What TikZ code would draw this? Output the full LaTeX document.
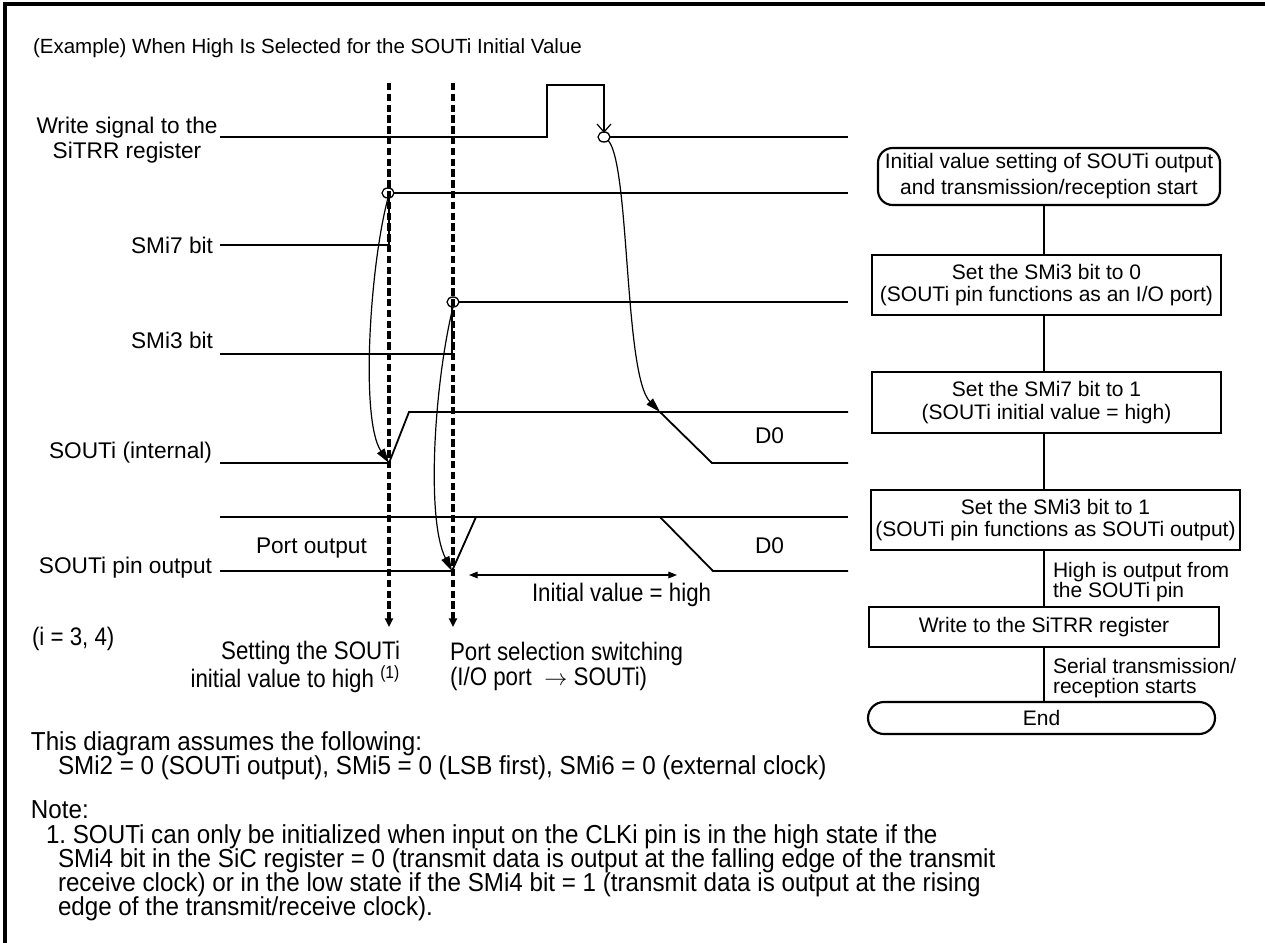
\documentclass[tikz,border=0pt]{standalone}
\usepackage{fontspec}
\setmainfont{Liberation Sans}
\newfontfamily\condfont[FakeStretch=0.93]{Liberation Sans}
\newfontfamily\labfont[FakeStretch=0.88]{Liberation Sans}
\usetikzlibrary{arrows.meta,shapes.geometric}
\begin{document}
\begin{tikzpicture}[x=0.75pt,y=-0.75pt,
  every node/.style={inner sep=0pt, outer sep=0pt},
  lbl/.style={font=\fontsize{17}{19}\selectfont},
  cond/.style={font=\condfont\fontsize{19.5}{18}\selectfont},
  labc/.style={font=\labfont\fontsize{19}{19}\selectfont},
  wave/.style={line width=1.35pt, line join=miter},
  frameline/.style={line width=2.5pt},
  guide/.style={line width=2.6pt, dash pattern=on 5.5pt off 2.6pt, -{Triangle[length=6.5pt,width=6pt]}},
  cause/.style={line width=0.9pt, -{Triangle[length=11pt,width=6.5pt]}},
  ring/.style={draw, ellipse, line width=1pt, fill=white, minimum width=9pt, minimum height=7.5pt},
  stepbox/.style={draw, line width=1.6pt, rectangle, align=center, font=\fontsize{15.75}{16.9}\selectfont},
  termbox/.style={draw, line width=1.6pt, rectangle, align=center, font=\fontsize{15.75}{19.5}\selectfont},
  flowline/.style={line width=1.1pt},
  sidelbl/.style={anchor=north west, align=left, font=\fontsize{15.75}{15.5}\selectfont},
]
\useasboundingbox (0,0) rectangle (1265,943);
% frame
\draw[frameline] (5,943) -- (5,4) -- (1265,4);

% title
\node[anchor=base west, font=\fontsize{15.4}{18}\selectfont] (title) at (33,53) {(Example) When High Is Selected for the SOUTi Initial Value};

% signal labels
\node[anchor=north, align=center, font=\fontsize{17}{18.75}\selectfont] (lw) at (127,117) {Write signal to the\\SiTRR register};
\node[lbl, anchor=base east] (l7) at (213,253) {SMi7 bit};
\node[lbl, anchor=base east] (l3) at (213,348) {SMi3 bit};
\node[lbl, anchor=base east] (li) at (212,458) {SOUTi (internal)};
\node[lbl, anchor=base east] (lp) at (212,573) {SOUTi pin output};
\node[lbl, anchor=base west] (po) at (256,553) {Port output};
\node[lbl, anchor=base west] (d0a) at (755,443) {D0};
\node[lbl, anchor=base west] (d0b) at (755,553) {D0};

% write signal
\coordinate (w0) at (220,137);
\coordinate (w1) at (547,137);
\coordinate (w2) at (547,85);
\coordinate (w3) at (604,85);
\coordinate (w4) at (604,137);
\coordinate (w5) at (848,137);
\draw[wave] (w0) -- (w1) -- (w2) -- (w3) -- (w4) -- (w5);
% SMi7
\coordinate (s70) at (220,245);
\coordinate (s71) at (389,245);
\coordinate (s72) at (389,193);
\coordinate (s73) at (848,193);
\draw[wave] (s70) -- (s71) -- (s72) -- (s73);
% SMi3
\coordinate (s30) at (220,354);
\coordinate (s31) at (452,354);
\coordinate (s32) at (452,302);
\coordinate (s33) at (848,302);
\draw[wave] (s30) -- (s31) -- (s32) -- (s33);
% SOUTi internal
\coordinate (i0) at (220,463);
\coordinate (i1) at (389,463);
\coordinate (i2) at (409,412);
\coordinate (i3) at (848,412);
\coordinate (i4) at (660,412);
\coordinate (i5) at (712,463);
\coordinate (i6) at (848,463);
\draw[wave] (i0) -- (i1) -- (i2) -- (i3);
\draw[wave] (i4) -- (i5) -- (i6);
% SOUTi pin output
\coordinate (p0) at (220,517);
\coordinate (p1) at (848,517);
\coordinate (p2) at (220,571);
\coordinate (p3) at (452,571);
\coordinate (p4) at (476,517);
\coordinate (p5) at (660,517);
\coordinate (p6) at (713,571);
\coordinate (p7) at (848,571);
\draw[wave] (p0) -- (p1);
\draw[wave] (p2) -- (p3) -- (p4);
\draw[wave] (p5) -- (p6) -- (p7);

% rings
\node[ring] (r1) at (604,137) {};
\node[ring] (r7) at (388,193) {};
\node[ring] (r3) at (453,302) {};
\coordinate (v0) at (597,124);
\coordinate (v1) at (611,124);
\draw[line width=0.9pt] (v0) -- (r1.north) -- (v1);

% dashed guides
\coordinate (g1t) at (389,83);
\coordinate (g1b) at (389,627);
\coordinate (g2t) at (453,83);
\coordinate (g2b) at (453,627);
\draw[guide] (g1t) -- (g1b);
\draw[guide] (g2t) -- (g2b);

% cause arrows
\draw[cause] (r7.south) .. controls (370,265) and (360,420) .. (i1);
\draw[cause] (r3.south) .. controls (434,385) and (426,520) .. (p3);
\draw[cause] (r1.south east) .. controls (630,165) and (624,375) .. (i4);

% initial value span
\coordinate (ha) at (469,575);
\coordinate (hb) at (677,575);
\draw[line width=0.9pt, {Triangle[length=6.5pt,width=5pt]}-{Triangle[length=6.5pt,width=5pt]}] (ha) -- (hb);
\node[labc, anchor=base west] (iv) at (532,601) {Initial value = high};

% bottom labels
\node[labc, anchor=base west] (ii) at (32,645) {(i = 3, 4)};
\node[labc, anchor=north east, align=right] (setl) at (400,641) {Setting the SOUTi\\initial value to high \textsuperscript{(1)}};
\node[labc, anchor=base west] (psel1) at (450,660) {Port selection switching};
\node[labc, anchor=base west] (psel2) at (450,685) {(I/O port\enspace$\rightarrow$ SOUTi)};

% notes
\node[cond, anchor=base west] (n1) at (31,750) {This diagram assumes the following:};
\node[cond, anchor=base west] (n2) at (58,774) {SMi2 = 0 (SOUTi output), SMi5 = 0 (LSB first), SMi6 = 0 (external clock)};
\node[cond, anchor=base west] (n3) at (31,818) {Note:};
\node[cond, anchor=base west] (n4) at (46,843) {1.\ SOUTi can only be initialized when input on the CLKi pin is in the high state if the};
\node[cond, anchor=base west] (n5) at (58,867) {SMi4 bit in the SiC register = 0 (transmit data is output at the falling edge of the transmit};
\node[cond, anchor=base west] (n6) at (58,891) {receive clock) or in the low state if the SMi4 bit = 1 (transmit data is output at the rising};
\node[cond, anchor=base west] (n7) at (58,915) {edge of the transmit/receive clock).};

% flowchart
\coordinate (fx) at (1044,0);
\node[termbox, rounded corners=11pt, minimum width=256.5pt, minimum height=42.75pt] (fs) at (1049,176.5) {Initial value setting of SOUTi output\\and transmission/reception start};
\node[stepbox, minimum width=261.75pt, minimum height=45pt] (f1) at (1046.5,285) {Set the SMi3 bit to 0\\(SOUTi pin functions as an I/O port)};
\node[stepbox, minimum width=261.75pt, minimum height=45.75pt] (f2) at (1046.5,402.5) {Set the SMi7 bit to 1\\(SOUTi initial value = high)};
\node[stepbox, minimum width=276.75pt, minimum height=45pt] (f3) at (1055.5,520) {Set the SMi3 bit to 1\\(SOUTi pin functions as SOUTi output)};
\node[stepbox, minimum width=262.5pt, minimum height=30pt] (f4) at (1044,627) {Write to the SiTRR register};
\node[termbox, rounded corners=12pt, minimum width=260.25pt, minimum height=24pt] (fe) at (1041.5,718) {End};
\draw[flowline] (fs.south -| fx) -- (f1.north -| fx);
\draw[flowline] (f1.south -| fx) -- (f2.north -| fx);
\draw[flowline] (f2.south -| fx) -- (f3.north -| fx);
\draw[flowline] (f3.south -| fx) -- (f4.north -| fx);
\draw[flowline] (f4.south -| fx) -- (fe.north -| fx);
\node[sidelbl] (fl1) at (1053,562) {High is output from\\the SOUTi pin};
\node[sidelbl] (fl2) at (1053,658) {Serial transmission/\\reception starts};
\end{tikzpicture}
\end{document}
